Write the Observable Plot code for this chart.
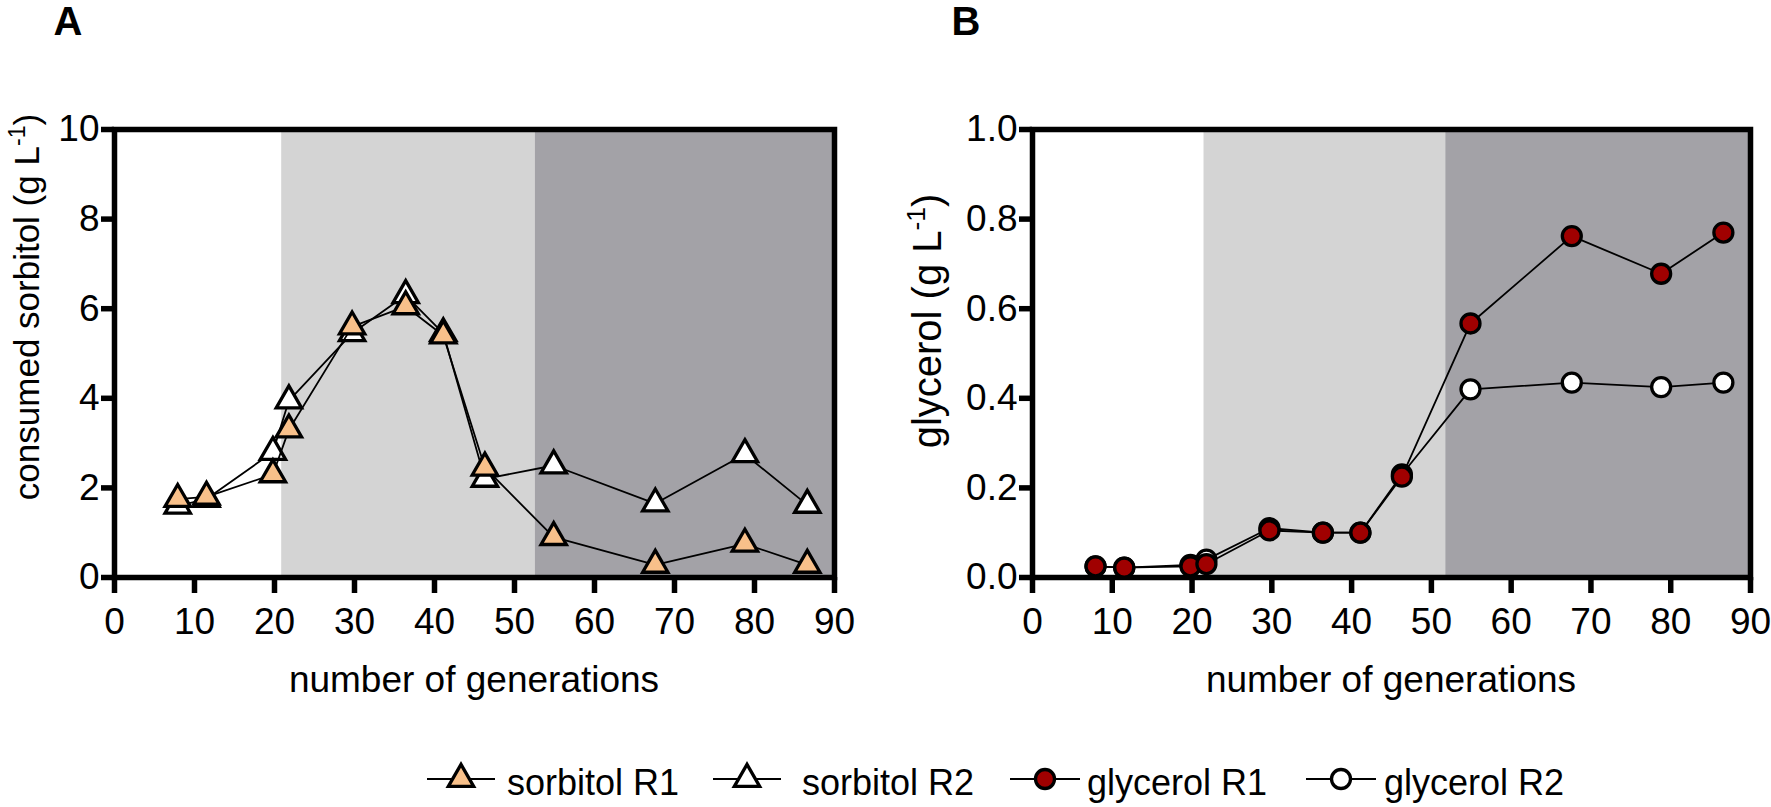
<!DOCTYPE html>
<html>
<head>
<meta charset="utf-8">
<script src="https://cdn.jsdelivr.net/npm/d3@7"></script>
<script src="https://cdn.jsdelivr.net/npm/@observablehq/plot@0.6"></script>
<style>
  body { margin: 0; background: #fff; }
  #wrap { position: relative; width: 1771px; height: 807px; overflow: hidden; font-family: "Liberation Sans", Arial, sans-serif; }
  #row { display: flex; position: absolute; left: 0; top: 0; }
  #legend { position: absolute; left: 0; top: 710px; width: 1771px; height: 97px; }
  .item { position: absolute; top: 0; height: 97px; }
  .item svg { position: absolute; top: 0; left: 0; overflow: visible; }
  .item span { position: absolute; font-size: 36px; line-height: 1; white-space: nowrap; color: #000; }
</style>
</head>
<body>
<div id="wrap">
  <div id="row"></div>
  <div id="legend"></div>
</div>
<script>
// ---- data ----
const generations = [7.9, 11.5, 19.8, 21.8, 29.7, 36.4, 41.1, 46.3, 54.9, 67.6, 78.8, 86.6];
const sorbitolR1 = [1.75, 1.8, 2.3, 3.3, 5.6, 6.05, 5.4, 2.45, 0.9, 0.28, 0.75, 0.28];
const sorbitolR2 = [1.6, 1.75, 2.8, 3.95, 5.45, 6.3, 5.45, 2.2, 2.5, 1.65, 2.75, 1.62];
const glycerolR1 = [0.025, 0.022, 0.025, 0.03, 0.105, 0.1, 0.1, 0.225, 0.567, 0.762, 0.678, 0.77];
const glycerolR2 = [0.025, 0.022, 0.028, 0.04, 0.11, 0.1, 0.1, 0.23, 0.42, 0.435, 0.425, 0.435];
const xTicks = [0, 10, 20, 30, 40, 50, 60, 70, 80, 90];
const sorbitolTicks = [0, 2, 4, 6, 8, 10];
const glycerolTicks = [0, 0.2, 0.4, 0.6, 0.8, 1.0];
const phaseEdgesA = [20.9, 52.6, 90];
const phaseEdgesB = [21.5, 51.8, 90];
const seriesNames = ["sorbitol R1", "sorbitol R2", "glycerol R1", "glycerol R2"];

// ---- styles ----
const FONT = '"Liberation Sans", Arial, sans-serif';
const LIGHT = "#d4d4d4", DARK = "#a3a2a7";
const ORANGE = "#f8c08a", RED = "#a00000";
const H = 710, TOP = 129, BOTTOM = 577;
const TRI_R = 9.4, CIR_R = 9.5, MARK_SW = 3.3;

const rowsOf = (vals) => generations.map((g, i) => ({g, v: vals[i]}));

function panel(cfg) {
  const yDom = cfg.yDomain;
  const bands = [
    {x1: cfg.edges[0], x2: cfg.edges[1]},
    {x1: cfg.edges[1], x2: cfg.edges[2]}
  ];
  const dotOpts = (fill) => ({x: "g", y: "v", symbol: cfg.symbol, r: cfg.r, fill, stroke: "black", strokeWidth: MARK_SW});
  const lineOpts = {x: "g", y: "v", stroke: "black", strokeWidth: 1.8};
  const plot = Plot.plot({
    width: cfg.width, height: H,
    marginTop: TOP, marginBottom: H - BOTTOM,
    marginLeft: cfg.marginLeft, marginRight: cfg.marginRight,
    style: {fontFamily: FONT, fontSize: "37px", color: "black", background: "transparent", overflow: "visible"},
    x: {domain: [0, 90], label: null},
    y: {domain: yDom, label: null},
    marks: [
      Plot.rect([bands[0]], {x1: "x1", x2: "x2", y1: yDom[0], y2: yDom[1], fill: LIGHT}),
      Plot.rect([bands[1]], {x1: "x1", x2: "x2", y1: yDom[0], y2: yDom[1], fill: DARK}),
      Plot.axisX({ticks: xTicks, tickSize: 16, tickPadding: 14, strokeWidth: 5.5, label: null, tickFormat: d => d}),
      Plot.axisY({ticks: cfg.yTicks, tickSize: 13, tickPadding: 2, strokeWidth: 5.5, label: null, tickFormat: cfg.yFormat}),
      Plot.frame({stroke: "black", strokeWidth: 5.5}),
      Plot.line(rowsOf(cfg.r2), lineOpts),
      Plot.dot(rowsOf(cfg.r2), dotOpts("white")),
      Plot.line(rowsOf(cfg.r1), lineOpts),
      Plot.dot(rowsOf(cfg.r1), dotOpts(cfg.fill1))
    ]
  });
  const svg = d3.select(plot);
  // panel letter
  svg.append("text").attr("x", cfg.titleX).attr("y", 35)
    .attr("font-family", FONT).attr("font-weight", "bold").attr("font-size", 40)
    .attr("fill", "black").text(cfg.title);
  // x label
  svg.append("text")
    .attr("x", (cfg.marginLeft + cfg.width - cfg.marginRight) / 2).attr("y", 692)
    .attr("text-anchor", "middle").attr("font-family", FONT).attr("font-size", 37)
    .attr("fill", "black").text("number of generations");
  // y label with superscript
  const t = svg.append("text")
    .attr("transform", `translate(${cfg.ylabX},${cfg.ylabY}) rotate(-90)`)
    .attr("text-anchor", "middle").attr("font-family", FONT).attr("font-size", cfg.ylabSize).attr("fill", "black");
  t.append("tspan").text(cfg.ylabel + " (g L");
  t.append("tspan").attr("font-size", cfg.ylabSize * 0.66).attr("dy", -cfg.ylabSize * 0.4).text("-1");
  t.append("tspan").attr("dy", cfg.ylabSize * 0.4).text(")");
  return plot;
}

const row = document.getElementById("row");
row.appendChild(panel({
  width: 885, marginLeft: 114, marginRight: 51,
  yDomain: [0, 10], yTicks: sorbitolTicks, yFormat: d => d,
  edges: phaseEdgesA, symbol: "triangle", r: TRI_R,
  r1: sorbitolR1, r2: sorbitolR2, fill1: ORANGE,
  title: "A", titleX: 68, ylabel: "consumed sorbitol", ylabX: 39, ylabY: 307, ylabSize: 35
}));
row.appendChild(panel({
  width: 886, marginLeft: 147, marginRight: 21,
  yDomain: [0, 1], yTicks: glycerolTicks, yFormat: d3.format(".1f"),
  edges: phaseEdgesB, symbol: "circle", r: CIR_R,
  r1: glycerolR1, r2: glycerolR2, fill1: RED,
  title: "B", titleX: 81, ylabel: "glycerol", ylabX: 56, ylabY: 321, ylabSize: 40
}));

// ---- legend ----
const legendItems = [
  {name: seriesNames[0], symbol: "triangle", fill: ORANGE, left: 427, textLeft: 507},
  {name: seriesNames[1], symbol: "triangle", fill: "white", left: 713, textLeft: 802},
  {name: seriesNames[2], symbol: "circle", fill: RED, left: 1010, textLeft: 1087},
  {name: seriesNames[3], symbol: "circle", fill: "white", left: 1306, textLeft: 1384}
];
const legend = d3.select("#legend");
for (const it of legendItems) {
  const lineW = it.symbol === "triangle" ? 68 : 70;
  const div = legend.append("div").attr("class", "item").style("left", it.left + "px");
  const s = div.append("svg").attr("width", lineW + 4).attr("height", 97);
  s.append("line").attr("x1", 0).attr("x2", lineW).attr("y1", 69).attr("y2", 69)
    .attr("stroke", "black").attr("stroke-width", 2);
  const sym = it.symbol === "triangle" ? d3.symbolTriangle : d3.symbolCircle;
  const r = it.symbol === "triangle" ? TRI_R : CIR_R;
  s.append("path").attr("d", d3.symbol(sym, r * r * Math.PI)())
    .attr("transform", `translate(${lineW / 2},69)`)
    .attr("fill", it.fill).attr("stroke", "black").attr("stroke-width", MARK_SW);
  div.append("span").style("left", (it.textLeft - it.left) + "px").style("top", "55px")
    .style("font-family", FONT).text(it.name);
}
</script>
</body>
</html>
